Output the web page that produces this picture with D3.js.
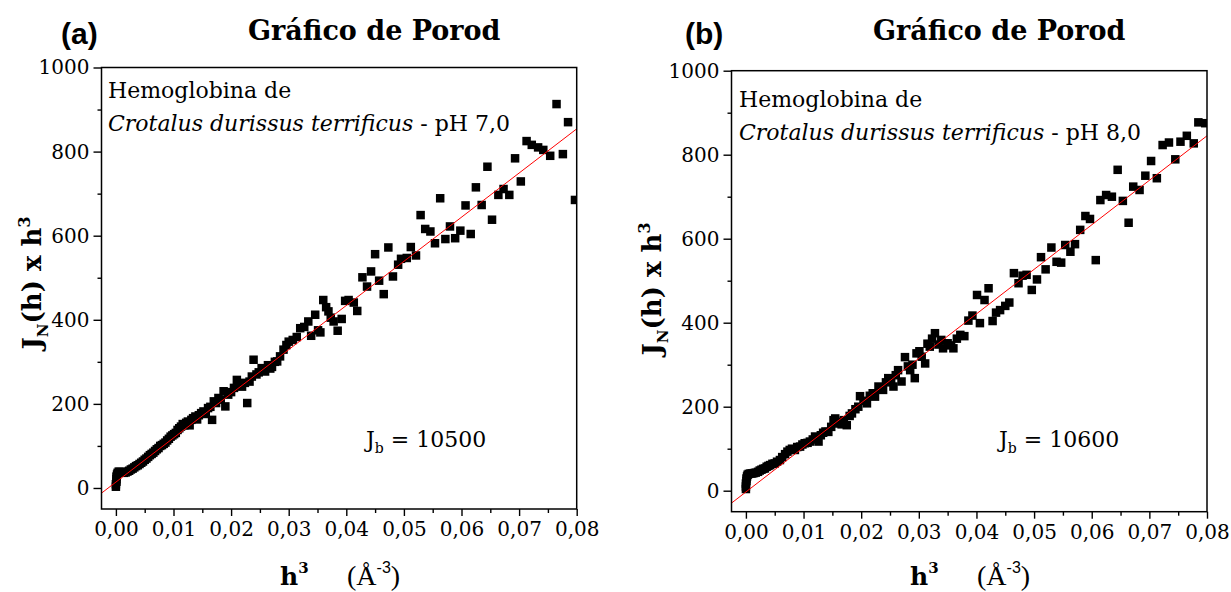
<!DOCTYPE html>
<html>
<head>
<meta charset="utf-8">
<script src="https://cdn.jsdelivr.net/npm/d3@7"></script>
<style>
  html, body { margin: 0; padding: 0; background: #fff; }
  svg { display: block; }
</style>
</head>
<body>
<svg id="chart" width="1231" height="592"></svg>
<script>
// Porod plot, pH 7,0 sample: h^3 (Å^-3) and J_N(h)·h^3
const hCubedA = [0.0000,0.0000,0.0001,0.0001,0.0001,0.0002,0.0003,0.0005,0.0008,0.0011,0.0014,0.0017,0.0020,0.0023,0.0026,0.0029,0.0032,0.0035,0.0038,0.0041,0.0044,0.0047,0.0050,0.0053,0.0056,0.0059,0.0062,0.0065,0.0068,0.0071,0.0074,0.0077,0.0080,0.0083,0.0086,0.0089,0.0092,0.0095,0.0098,0.0101,0.0104,0.0107,0.0110,0.0113,0.0116,0.0119,0.0122,0.0125,0.0128,0.0131,0.0134,0.0138,0.0141,0.0144,0.0148,0.0152,0.0156,0.0160,0.0164,0.0167,0.0170,0.0174,0.0178,0.0182,0.0187,0.0190,0.0195,0.0200,0.0205,0.0210,0.0215,0.0219,0.0224,0.0228,0.0232,0.0236,0.0239,0.0244,0.0248,0.0253,0.0259,0.0264,0.0268,0.0271,0.0276,0.0280,0.0285,0.0291,0.0296,0.0300,0.0307,0.0314,0.0320,0.0327,0.0334,0.0339,0.0346,0.0351,0.0355,0.0360,0.0365,0.0369,0.0373,0.0378,0.0385,0.0392,0.0398,0.0404,0.0413,0.0419,0.0428,0.0436,0.0443,0.0450,0.0457,0.0465,0.0473,0.0481,0.0490,0.0495,0.0505,0.0512,0.0521,0.0529,0.0537,0.0546,0.0554,0.0563,0.0572,0.0580,0.0589,0.0598,0.0607,0.0616,0.0625,0.0635,0.0645,0.0653,0.0664,0.0673,0.0683,0.0693,0.0703,0.0713,0.0722,0.0733,0.0742,0.0754,0.0765,0.0776,0.0785,0.0797];
const porodA = [3,9,15,21,27,32,36,39,38,37,36,37,39,41,44,46,49,52,54,57,60,63,67,70,74,78,81,84,88,92,95,100,102,105,108,113,117,122,125,128,131,138,142,146,152,149,155,158,149,162,166,170,163,173,178,182,176,190,193,162,206,202,214,210,230,194,222,228,238,257,246,241,250,202,253,265,305,270,275,285,277,292,284,288,300,301,313,329,340,348,352,359,380,383,396,362,412,375,370,447,430,420,405,396,374,402,445,447,441,421,501,479,515,556,493,461,572,503,531,545,547,573,553,649,616,610,582,689,592,622,594,612,672,604,715,673,764,638,697,711,697,784,729,825,816,810,804,790,913,794,870,685];

// Porod plot, pH 8,0 sample
const hCubedB = [0.0000,0.0000,0.0000,0.0001,0.0001,0.0002,0.0003,0.0005,0.0008,0.0011,0.0014,0.0017,0.0021,0.0024,0.0027,0.0030,0.0033,0.0036,0.0039,0.0042,0.0046,0.0050,0.0054,0.0059,0.0063,0.0068,0.0072,0.0076,0.0080,0.0085,0.0089,0.0094,0.0098,0.0102,0.0107,0.0111,0.0116,0.0120,0.0126,0.0130,0.0134,0.0138,0.0143,0.0148,0.0152,0.0155,0.0158,0.0162,0.0166,0.0170,0.0175,0.0180,0.0184,0.0190,0.0195,0.0198,0.0204,0.0210,0.0215,0.0220,0.0224,0.0230,0.0234,0.0238,0.0243,0.0247,0.0252,0.0256,0.0260,0.0264,0.0270,0.0276,0.0281,0.0285,0.0289,0.0293,0.0296,0.0301,0.0305,0.0311,0.0315,0.0319,0.0323,0.0328,0.0334,0.0339,0.0342,0.0350,0.0356,0.0360,0.0366,0.0372,0.0379,0.0386,0.0393,0.0401,0.0406,0.0414,0.0421,0.0428,0.0434,0.0441,0.0450,0.0457,0.0465,0.0473,0.0480,0.0487,0.0496,0.0505,0.0512,0.0520,0.0530,0.0539,0.0547,0.0554,0.0563,0.0571,0.0580,0.0589,0.0597,0.0607,0.0615,0.0625,0.0635,0.0645,0.0654,0.0664,0.0672,0.0683,0.0693,0.0703,0.0713,0.0723,0.0734,0.0745,0.0754,0.0765,0.0777,0.0785,0.0797];
const porodB = [4,10,17,23,29,34,38,40,41,41,42,43,45,48,50,52,53,57,59,61,64,65,69,73,80,87,93,97,100,97,104,105,110,113,114,117,122,129,117,132,138,141,140,152,168,172,164,160,158,168,156,178,184,194,200,225,214,208,226,232,224,248,242,240,258,268,262,248,275,287,260,318,296,287,300,268,327,332,319,303,350,343,362,375,348,359,339,351,346,339,362,371,368,405,417,466,399,454,482,404,424,430,440,448,518,494,512,514,478,503,556,527,579,545,543,585,569,587,621,654,647,549,692,704,700,764,690,638,724,716,750,785,744,823,829,789,831,845,827,877,875];

// Linear fits: slope is the background J_b, intercept the Porod term
const fitSlope = [10500, 10600];
const fitIntercept = [14, -3];

// Axis ticks and labels
const xMajorTicks = [0, 0.01, 0.02, 0.03, 0.04, 0.05, 0.06, 0.07, 0.08];
const xMinorTicks = [0.005, 0.015, 0.025, 0.035, 0.045, 0.055, 0.065, 0.075];
const yMajorTicks = [0, 200, 400, 600, 800, 1000];
const yMinorTicks = [100, 300, 500, 700, 900];
const xDomain = [-0.0025, 0.08];
const yDomain = [-50, 1000];

const panelTags = ["(a)", "(b)"];
const titleText = "Gráfico de Porod";
const sampleLine1 = "Hemoglobina de";
const speciesName = "Crotalus durissus terrificus";
const phLabels = [" - pH 7,0", " - pH 8,0"];
const jbValues = ["10500", "10600"];

const svg = d3.select("#chart");
const serif = "'DejaVu Serif', serif";
const sans = "'Liberation Sans', Arial, sans-serif";
const fmt = v => d3.format(".2f")(v).replace(".", ",");

const panels = [
  { x: hCubedA, y: porodA, xr: [101.5, 576.7], yr: [509, 67.5],
    tagX: 61, titleX: 248, noteX: 108, noteY: [98, 131], jbX: 366, jbY: 447,
    yLab: [41, 282], xLabH: 280, xLabU: 347 },
  { x: hCubedB, y: porodB, xr: [731.5, 1207], yr: [511.7, 70.7],
    tagX: 685, titleX: 873, noteX: 739, noteY: [107, 140], jbX: 999, jbY: 447,
    yLab: [661, 288], xLabH: 910, xLabU: 977 }
];

panels.forEach((p, i) => {
  const g = svg.append("g");
  const x = d3.scaleLinear().domain(xDomain).range(p.xr);
  const y = d3.scaleLinear().domain(yDomain).range(p.yr);
  const [x0, x1] = p.xr, [y0, y1] = p.yr;

  // clip region for the plot area
  const clipId = "clip" + i;
  svg.append("clipPath").attr("id", clipId)
    .append("rect").attr("x", x0).attr("y", y1).attr("width", x1 - x0).attr("height", y0 - y1);

  // data points (filled squares)
  const side = 8.5;
  const pts = d3.zip(p.x, p.y);
  g.append("g").attr("clip-path", `url(#${clipId})`)
    .selectAll("rect").data(pts).join("rect")
    .attr("x", d => x(d[0]) - side / 2).attr("y", d => y(d[1]) - side / 2)
    .attr("width", side).attr("height", side).attr("fill", "#000");

  // fitted line
  const fit = v => fitIntercept[i] + fitSlope[i] * v;
  g.append("line").attr("clip-path", `url(#${clipId})`)
    .attr("x1", x(xDomain[0])).attr("y1", y(fit(xDomain[0])))
    .attr("x2", x(xDomain[1])).attr("y2", y(fit(xDomain[1])))
    .attr("stroke", "#ff0000").attr("stroke-width", 1);

  // axes
  const axStyle = sel => {
    sel.select(".domain").remove();
    sel.selectAll("line").attr("stroke", "#000").attr("stroke-width", 1.4);
    sel.selectAll("text").attr("font-family", serif).attr("font-size", 20).attr("fill", "#000");
  };
  g.append("g").attr("transform", `translate(0,${y0})`)
    .call(d3.axisBottom(x).tickValues(xMajorTicks).tickSize(7).tickPadding(6).tickFormat(fmt))
    .call(axStyle);
  g.append("g").attr("transform", `translate(0,${y0})`)
    .call(d3.axisBottom(x).tickValues(xMinorTicks).tickSize(4).tickFormat(""))
    .call(axStyle);
  g.append("g").attr("transform", `translate(${x0},0)`)
    .call(d3.axisLeft(y).tickValues(yMajorTicks).tickSize(8).tickPadding(4).tickFormat(d3.format("d")))
    .call(axStyle);
  g.append("g").attr("transform", `translate(${x0},0)`)
    .call(d3.axisLeft(y).tickValues(yMinorTicks).tickSize(4).tickFormat(""))
    .call(axStyle);

  // frame
  g.append("rect").attr("x", x0).attr("y", y1).attr("width", x1 - x0).attr("height", y0 - y1)
    .attr("fill", "none").attr("stroke", "#000").attr("stroke-width", 1.5);

  // panel tag and title
  g.append("text").attr("x", p.tagX).attr("y", 44)
    .attr("font-family", sans).attr("font-weight", "bold").attr("font-size", 30).text(panelTags[i]);
  g.append("text").attr("x", p.titleX).attr("y", 40)
    .attr("font-family", serif).attr("font-weight", "bold").attr("font-size", 27).text(titleText);

  // sample annotation
  g.append("text").attr("x", p.noteX).attr("y", p.noteY[0])
    .attr("font-family", serif).attr("font-size", 22).text(sampleLine1);
  const t2 = g.append("text").attr("x", p.noteX).attr("y", p.noteY[1])
    .attr("font-family", serif).attr("font-size", 22);
  t2.append("tspan").attr("font-style", "italic").text(speciesName);
  t2.append("tspan").text(phLabels[i]);

  // J_b label
  const jb = g.append("text").attr("x", p.jbX).attr("y", p.jbY)
    .attr("font-family", serif).attr("font-size", 22);
  jb.append("tspan").text("J");
  jb.append("tspan").attr("font-size", 14).attr("dy", 6).text("b");
  jb.append("tspan").attr("dy", -6).text(" = " + jbValues[i]);

  // y-axis title
  const yl = g.append("text")
    .attr("transform", `translate(${p.yLab[0]},${p.yLab[1]}) rotate(-90)`)
    .attr("font-family", serif).attr("font-weight", "bold").attr("font-size", 26);
  yl.append("tspan").text("J");
  yl.append("tspan").attr("font-size", 15).attr("dy", 7).text("N");
  yl.append("tspan").attr("dy", -7).text("(h) x h");
  yl.append("tspan").attr("font-size", 16).attr("dy", -11).text("3");
  // center the rotated title on its anchor point
  const bb = yl.node().getBBox();
  yl.attr("x", -bb.width / 2);

  // x-axis title
  const xl = g.append("text").attr("x", p.xLabH).attr("y", 585)
    .attr("font-family", serif).attr("font-weight", "bold").attr("font-size", 25);
  xl.append("tspan").text("h");
  xl.append("tspan").attr("font-size", 15).attr("dy", -12).text("3");
  const xu = g.append("text").attr("x", p.xLabU).attr("y", 585)
    .attr("font-family", "'Liberation Serif', serif").attr("font-size", 28);
  xu.append("tspan").text("(Å");
  xu.append("tspan").attr("font-family", sans).attr("font-size", 16).attr("dy", -12).text("-3");
  xu.append("tspan").attr("dy", 12).text(")");
});
</script>
</body>
</html>
